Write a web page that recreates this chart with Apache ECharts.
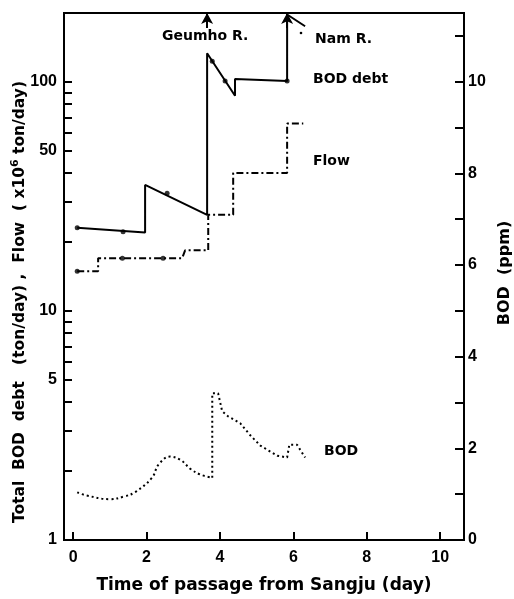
<!DOCTYPE html>
<html>
<head>
<meta charset="utf-8">
<script src="https://cdn.jsdelivr.net/npm/echarts@6/dist/echarts.min.js"></script>
<style>
  html, body { margin: 0; padding: 0; background: #fff; }
  #chart { width: 514px; height: 599px; }
</style>
</head>
<body>
<div id="chart"></div>
<script>
"use strict";

// x: time of passage (day)
var xTicks = [0, 2, 4, 6, 8, 10];
var logLabels = [1, 5, 10, 50, 100];
var logTicks = [1, 2, 3, 4, 5, 6, 7, 8, 9, 10, 20, 30, 40, 50, 60, 70, 80, 90, 100];
var bodLabels = [0, 2, 4, 6, 8, 10];

// Total BOD debt (ton/day)
var debtDays = [0.11, 1.96, 1.96, 3.65, 3.65, 4.41, 4.41, 5.83, 5.83, 6.32];
var debtVals = [23.1, 22.0, 35.5, 26.3, 133.5, 87, 103, 101, 197, 175];
var debtDotDays = [0.11, 1.36, 2.56, 3.79, 4.14, 5.83];
var debtDotVals = [23.1, 22.2, 32.7, 123, 101, 101];

// Flow (x10^6 ton/day)
var flowDays = [0.11, 0.68, 0.68, 2.97, 3.05, 3.68, 3.68, 4.36, 4.36, 5.83, 5.83, 6.27];
var flowVals = [14.9, 14.9, 17.0, 17.0, 18.4, 18.4, 26.3, 26.3, 40, 40, 65.8, 65.8];
var flowDotDays = [0.11, 1.34, 2.45];
var flowDotVals = [14.9, 17.0, 17.0];

// BOD (ppm)
var bodDaysA = [0.11, 0.37, 1.0, 1.39, 1.7, 2.15, 2.33, 2.64, 2.92, 3.2, 3.46, 3.79];
var bodValsA = [1.04, 0.97, 0.89, 0.95, 1.05, 1.36, 1.65, 1.82, 1.75, 1.55, 1.43, 1.36];
var bodDaysB = [3.79, 3.79, 3.95, 4.06, 4.22, 4.55, 4.82, 5.1, 5.56, 5.83, 5.89, 6.1, 6.32];
var bodValsB = [1.36, 3.20, 3.20, 2.81, 2.70, 2.55, 2.29, 2.06, 1.84, 1.80, 2.08, 2.08, 1.80];

// river inflows (arrow positions on the top)
var inflowDays = [3.65, 5.83];

var FONT = "DejaVu Sans";
var NUMFONT = "Liberation Sans";

function lg(v) {
  return Math.log(v) / Math.LN10;
}
function pairsLog(xs, ys) {
  return xs.map(function (x, i) { return [x, lg(ys[i])]; });
}
function pairs(xs, ys) {
  return xs.map(function (x, i) { return [x, ys[i]]; });
}

var chart = echarts.init(document.getElementById("chart"), null, { renderer: "canvas" });

var option = {
  animation: false,
  backgroundColor: "#fff",
  grid: {
    left: 64, right: 50, top: 13, bottom: 56,
    show: true, borderColor: "#000", borderWidth: 2
  },
  xAxis: {
    type: "value",
    min: -0.25,
    max: 10.65,
    name: "Time of passage from Sangju (day)",
    nameLocation: "middle",
    nameGap: 37,
    nameTextStyle: { fontFamily: FONT, fontWeight: "bold", fontSize: 17, color: "#000" },
    axisLine: { show: true, onZero: false, lineStyle: { color: "#000", width: 2 } },
    axisTick: { show: true, inside: true, length: 8, customValues: xTicks, lineStyle: { color: "#000", width: 2 } },
    axisLabel: { customValues: xTicks, margin: 10, fontFamily: NUMFONT, fontWeight: "bold", fontSize: 16, color: "#000" },
    splitLine: { show: false }
  },
  yAxis: [{
    // log scale drawn as log10 of the values
    type: "value",
    min: 0,
    max: lg(200),
    position: "left",
    axisLine: { show: true, onZero: false, lineStyle: { color: "#000", width: 2 } },
    axisTick: { show: true, inside: true, length: 8, customValues: logTicks.map(lg), lineStyle: { color: "#000", width: 2 } },
    axisLabel: {
      customValues: logLabels.map(lg),
      margin: 7,
      fontFamily: NUMFONT, fontWeight: "bold", fontSize: 16, color: "#000",
      formatter: function (v) { return String(Math.round(Math.pow(10, v))); }
    },
    splitLine: { show: false }
  }, {
    type: "value",
    min: 0,
    max: 11.5,
    interval: 1,
    position: "right",
    axisLine: { show: true, onZero: false, lineStyle: { color: "#000", width: 2 } },
    axisTick: { show: true, inside: true, length: 9, lineStyle: { color: "#000", width: 2 } },
    axisLabel: {
      customValues: bodLabels,
      margin: 4,
      fontFamily: NUMFONT, fontWeight: "bold", fontSize: 16, color: "#000"
    },
    splitLine: { show: false }
  }],
  series: [{
    name: "BOD debt",
    type: "line",
    yAxisIndex: 0,
    data: pairsLog(debtDays, debtVals),
    showSymbol: false,
    lineStyle: { color: "#000", width: 2 },
    markLine: {
      silent: true,
      symbol: ["none", "arrow"],
      symbolSize: [9, 11],
      label: { show: false },
      lineStyle: { color: "#000", width: 2, type: "solid" },
      data: inflowDays.map(function (d) {
        return [{ coord: [d, lg(172)] }, { coord: [d, lg(200)] }];
      })
    }
  }, {
    name: "BOD debt pts",
    type: "scatter",
    yAxisIndex: 0,
    data: pairsLog(debtDotDays, debtDotVals),
    symbolSize: 5,
    itemStyle: { color: "#000" }
  }, {
    name: "Flow",
    type: "line",
    yAxisIndex: 0,
    data: pairsLog(flowDays, flowVals),
    showSymbol: false,
    lineStyle: { color: "#000", width: 2, type: [7, 3, 2, 3] }
  }, {
    name: "Flow pts",
    type: "scatter",
    yAxisIndex: 0,
    data: pairsLog(flowDotDays, flowDotVals),
    symbolSize: 5,
    itemStyle: { color: "#000" }
  }, {
    name: "BOD",
    type: "line",
    yAxisIndex: 1,
    data: pairs(bodDaysA, bodValsA),
    smooth: 0.4,
    showSymbol: false,
    lineStyle: { color: "#000", width: 2, type: [2, 3] }
  }, {
    name: "BOD 2",
    type: "line",
    yAxisIndex: 1,
    data: pairs(bodDaysB, bodValsB),
    showSymbol: false,
    lineStyle: { color: "#000", width: 2, type: [2, 3] }
  }],
  graphic: [
    { type: "text", left: 162, top: 29, style: { text: "Geumho R.", font: "bold 14px " + FONT, fill: "#000" } },
    { type: "text", left: 315, top: 32, style: { text: "Nam R.", font: "bold 14px " + FONT, fill: "#000" } },
    { type: "circle", shape: { cx: 301, cy: 33, r: 1.3 }, style: { fill: "#000" } },
    { type: "text", left: 313, top: 72, style: { text: "BOD debt", font: "bold 14px " + FONT, fill: "#000" } },
    { type: "text", left: 313, top: 154, style: { text: "Flow", font: "bold 14px " + FONT, fill: "#000" } },
    { type: "text", left: 324, top: 444, style: { text: "BOD", font: "bold 14px " + FONT, fill: "#000" } },
    {
      type: "text", x: 20, y: 302, rotation: Math.PI / 2,
      style: {
        text: "Total  BOD  debt   (ton/day) ,  Flow  ( x10{s|6} ton/day)",
        font: "bold 15.5px " + FONT, fill: "#000", align: "center", verticalAlign: "middle",
        rich: { s: { fontSize: 11, fontWeight: "bold", fontFamily: FONT, verticalAlign: "top", padding: [0, 0, 9, 0] } }
      }
    },
    {
      type: "text", x: 505, y: 273, rotation: Math.PI / 2,
      style: { text: "BOD  (ppm)", font: "bold 16px " + FONT, fill: "#000", align: "center", verticalAlign: "middle" }
    }
  ]
};

chart.setOption(option);
</script>
</body>
</html>
